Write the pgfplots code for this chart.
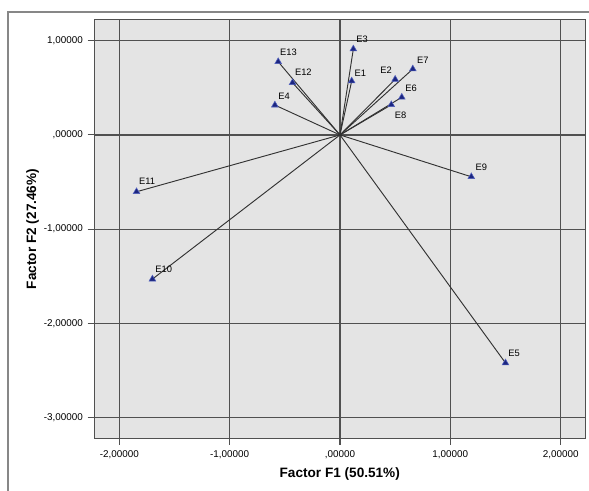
\documentclass[border=0pt]{standalone}
\usepackage{fontspec}
\setmainfont{Liberation Sans}
\usepackage{pgfplots}
\pgfplotsset{compat=1.18}
\usepackage{pgfplotstable}
\definecolor{bgc}{RGB}{228,228,228}
\definecolor{gridc}{RGB}{80,80,80}
\definecolor{linec}{RGB}{50,50,50}
\definecolor{markf}{RGB}{28,38,128}
\definecolor{marke}{RGB}{80,95,190}
\definecolor{framec}{RGB}{135,135,135}

\pgfplotstableread{
x y label dx dy
0.106 0.572 E1 2.0 3.75
0.500 0.590 E2 -11.3 4.5
0.121 0.912 E3 2.0 5.0
-0.590 0.317 E4 2.5 4.3
1.500 -2.420 E5 2.0 4.5
0.560 0.400 E6 2.5 4.2
0.660 0.700 E7 3.0 3.75
0.465 0.320 E8 2.5 -10.2
1.190 -0.444 E9 3.0 4.5
-1.700 -1.530 E10 2.0 4.7
-1.844 -0.603 E11 1.7 5.8
-0.430 0.554 E12 1.7 5.25
-0.560 0.777 E13 1.3 5.0
}\data

\begin{document}
\begin{tikzpicture}
\path[use as bounding box] (0,0) rectangle (441.75pt,368.25pt);
\fill[white] (0,0) rectangle (441.75pt,368.25pt);
\draw[framec, line width=1.1pt] (6pt,-2pt) -- (6pt,359.25pt) -- (445pt,359.25pt);
\begin{axis}[
  at={(70.7pt,39.5pt)}, anchor=south west,
  scale only axis, width=368.25pt, height=314.1pt,
  xmin=-2.227, xmax=2.223, ymin=-3.22, ymax=1.225,
  axis background/.style={fill=bgc},
  axis line style={draw=gridc, line width=0.8pt},
  grid=major,
  major grid style={draw=gridc, line width=0.85pt},
  xtick={-2,-1,0,1,2},
  ytick={-3,-2,-1,0,1},
  xticklabels={{-2,00000},{-1,00000},{,00000},{1,00000},{2,00000}},
  yticklabels={{-3,00000},{-2,00000},{-1,00000},{,00000},{1,00000}},
  tick align=outside,
  major tick length=5pt,
  tick style={draw=gridc, line width=0.8pt},
  xtick pos=bottom, ytick pos=left,
  ticklabel style={font=\fontsize{7.4}{8}\selectfont, text=black},
  xticklabel style={yshift=-1pt},
  xlabel={Factor F1 (50.51\%)},
  ylabel={Factor F2 (27.46\%)},
  label style={font=\fontsize{10.2}{12}\bfseries},
  xlabel style={at={(axis description cs:0.5,-0.0853)}, anchor=center},
  ylabel style={at={(axis description cs:-0.1257,0.5)}, anchor=center},
  clip=false,
]
\addplot[draw=linec, line width=0.7pt, -, quiver={u=\thisrow{x}, v=\thisrow{y}}] table[x expr=0, y expr=0] {\data};
\addplot[only marks, mark=triangle*, mark size=2.9pt,
  mark options={fill=markf, draw=marke, line width=0.4pt},
  visualization depends on={\thisrow{dx} \as \dx},
  visualization depends on={\thisrow{dy} \as \dy},
  nodes near coords, point meta=explicit symbolic,
  every node near coord/.style={anchor=base west, inner sep=0pt, xshift=\dx pt, yshift=\dy pt, font=\fontsize{7}{8}\selectfont, text=black}]
  table[x=x, y=y, meta=label] {\data};
\end{axis}
\end{tikzpicture}
\end{document}
